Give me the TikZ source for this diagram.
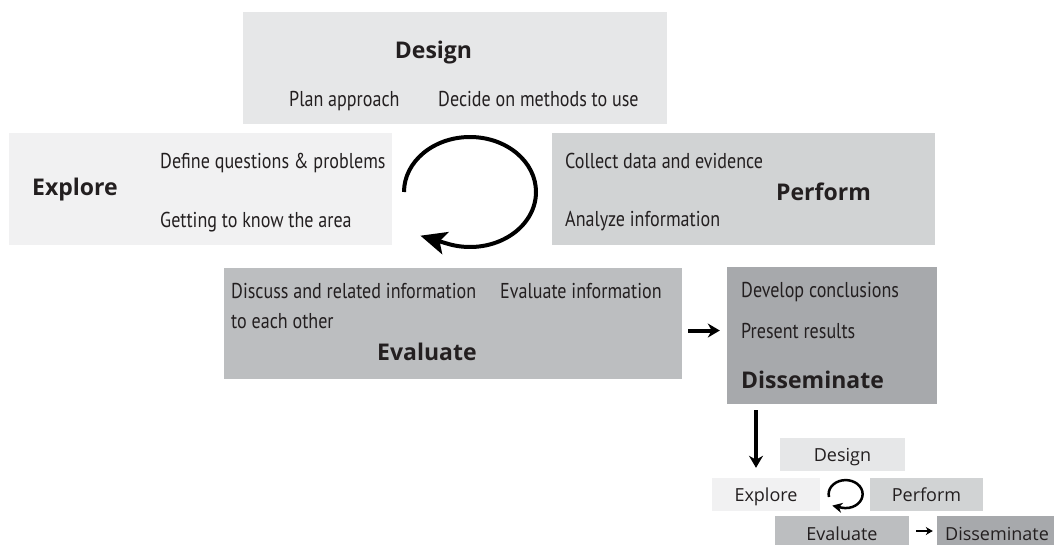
\documentclass[tikz,border=0pt]{standalone}
\usepackage{fontspec}
\setmainfont{Open Sans}
\newfontfamily\itemfont[FakeStretch=0.84]{PT Sans}
\usetikzlibrary{arrows.meta,calc}

\definecolor{designgray}{HTML}{E6E7E8}
\definecolor{exploregray}{HTML}{F1F1F2}
\definecolor{performgray}{HTML}{D1D3D4}
\definecolor{evaluategray}{HTML}{BCBEC0}
\definecolor{dissemgray}{HTML}{A7A9AC}
\definecolor{ink}{HTML}{231F20}

\begin{document}
\begin{tikzpicture}[x=1pt,y=-1pt,>={Stealth[length=12pt,width=14pt]},
  stage/.style={rectangle,inner sep=0pt,minimum height=112pt},
  item/.style={anchor=base west,inner sep=0pt,text=ink,font=\itemfont\fontsize{21.5}{25}\selectfont},
  heading/.style={anchor=base west,inner sep=0pt,text=ink,font=\bfseries\fontsize{23}{27}\selectfont},
  mini/.style={rectangle,inner sep=0pt,minimum height=33pt,text height=14pt,text depth=1pt,
    text=ink,font=\fontsize{18}{21}\selectfont}]

  \useasboundingbox[fill=white] (0,0) rectangle (1054,544);

  % the five stages
  \node[stage,fill=designgray,minimum width=424pt] (design) at (455,68) {};
  \node[stage,fill=exploregray,minimum width=383pt] (explore) at (200.5,189) {};
  \node[stage,fill=performgray,minimum width=383pt] (perform) at (743.5,189) {};
  \node[stage,fill=evaluategray,minimum width=458pt,minimum height=111pt] (evaluate) at (453,323.5) {};
  \node[stage,fill=dissemgray,minimum width=210pt,minimum height=137pt] (disseminate) at (832,335.5) {};

  \node[heading,anchor=base] (design title) at (433.5,58) {Design};
  \node[item] (plan) at (289,106) {Plan approach};
  \node[item] (decide) at (438,106) {Decide on methods to use};

  \node[heading] (explore title) at (32,195) {Explore};
  \node[item] (define) at (160,168) {Define questions \& problems};
  \node[item] (getting) at (160,227) {Getting to know the area};

  \node[item] (collect) at (565,168) {Collect data and evidence};
  \node[heading] (perform title) at (776,200) {Perform};
  \node[item] (analyze) at (565,226) {Analyze information};

  \node[item] (discuss) at (231,298) {Discuss and related information};
  \node[item] (other) at (231,328) {to each other};
  \node[item] (assess) at (500,298) {Evaluate information};
  \node[heading] (evaluate title) at (377,360) {Evaluate};

  \node[item] (develop) at (741,297) {Develop conclusions};
  \node[item] (present) at (741,338) {Present results};
  \node[heading] (disseminate title) at (741,388) {Disseminate};

  % turning round between the first stages
  \coordinate (turn) at (404,192);
  \draw[line width=4pt,-{Stealth[length=26pt,width=23pt,inset=6pt]}]
    (turn) arc[start angle=180,end angle=470,x radius=66,y radius=55] -- ++(-27,-8);

  \draw[->,line width=4pt,shorten <=6pt,shorten >=7pt]
    (evaluate.east |- present.west) -- (disseminate.west |- present.west);

  % the same cycle, small
  \node[mini,fill=designgray,minimum width=125pt] (mini design) at (842.5,454.5) {Design};
  \node[mini,fill=exploregray,minimum width=108pt] (mini explore) at (766,494.5) {Explore};
  \node[mini,fill=performgray,minimum width=113pt] (mini perform) at (926.5,494.5) {Perform};
  \node[mini,fill=evaluategray,minimum width=134pt,minimum height=36pt] (mini evaluate) at (842,534) {Evaluate};
  \node[mini,fill=dissemgray,minimum width=120pt,minimum height=36pt] (mini disseminate) at (997,534) {Disseminate};

  \coordinate (drop) at (756,404);
  \draw[->,line width=4pt,shorten <=6pt,shorten >=10pt] (drop) -- (drop |- mini explore.north);

  \coordinate (mini turn) at (829,497);
  \draw[line width=2.5pt,-{Stealth[length=10pt,width=10pt,inset=3pt]}]
    (mini turn) arc[start angle=168,end angle=465,x radius=17,y radius=14] -- ++(-9,-2);

  \draw[->,>={Stealth[length=7pt,width=8pt]},line width=2.5pt,shorten <=7pt,shorten >=4pt]
    ([yshift=3pt]mini evaluate.east) -- ([yshift=3pt]mini disseminate.west);
\end{tikzpicture}
\end{document}
